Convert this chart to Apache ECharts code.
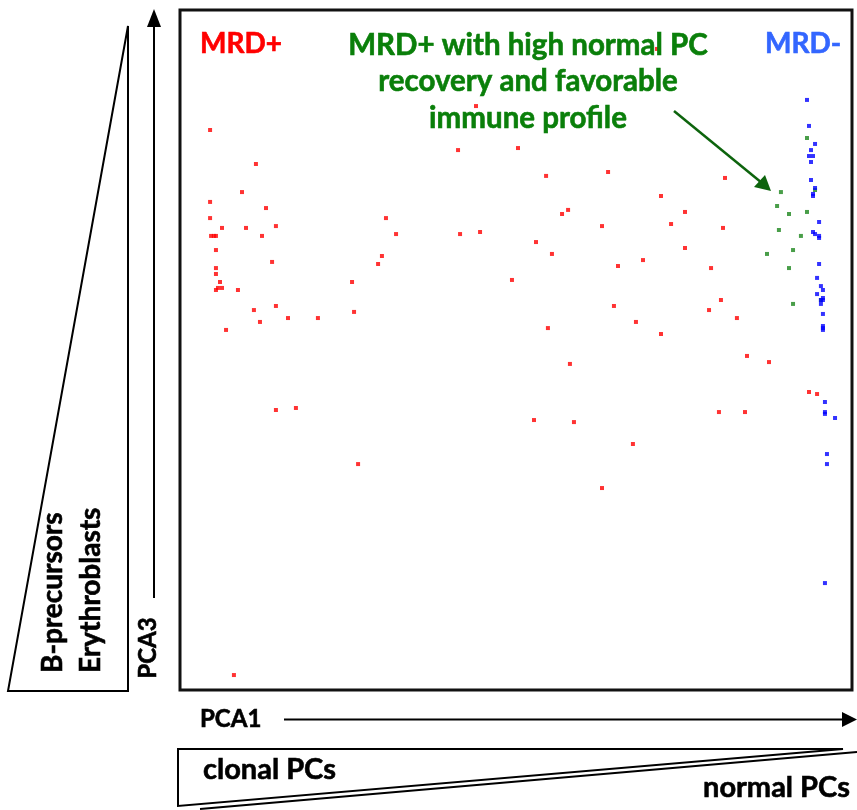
<!DOCTYPE html>
<html>
<head>
<meta charset="utf-8">
<title>PCA1 vs PCA3</title>
<script src="https://cdn.jsdelivr.net/npm/echarts@6/dist/echarts.min.js"></script>
<style>
  html, body { margin: 0; padding: 0; background: #fff; }
  #chart { width: 857px; height: 810px; }
</style>
</head>
<body>
<div id="chart"></div>
<script>
// PCA scores [PCA1, PCA3] per sample group
const mrdPositive = [
  [-18.21, 12.94], [-15.48, 10.94], [-16.31, 9.29], [-18.21, 8.71], [-14.88, 8.35],
  [-18.21, 7.76], [-17.50, 7.18], [-16.07, 7.18], [-14.29, 7.29], [-15.12, 6.71],
  [-18.15, 6.71], [-17.98, 6.71], [-17.86, 6.71], [-17.86, 5.88], [-14.52, 5.18],
  [-17.86, 4.82], [-17.86, 4.47], [-17.62, 4.00], [-17.86, 3.53], [-17.74, 3.65],
  [-17.50, 3.65], [-16.55, 3.53], [-15.60, 2.35], [-14.29, 2.59], [-15.24, 1.65],
  [-13.57, 1.88], [-11.79, 1.88], [-17.26, 1.18], [-7.74, 7.76], [-7.14, 6.82],
  [-7.98, 5.53], [-8.21, 5.06], [-9.76, 4.00], [-9.64, 2.24], [-2.38, 14.35],
  [-3.45, 11.76], [0.12, 11.88], [1.79, 10.24], [5.48, 10.47], [2.74, 8.00],
  [3.10, 8.24], [5.12, 7.29], [-3.33, 6.82], [-2.14, 6.94], [1.19, 6.35],
  [2.14, 5.65], [6.07, 4.94], [-0.24, 4.12], [5.83, 2.59], [7.14, 1.65],
  [1.90, 1.29], [12.44, 10.12], [8.63, 9.06], [10.06, 8.12], [9.23, 7.41],
  [12.32, 7.18], [10.06, 6.00], [7.56, 5.29], [11.61, 4.82], [12.20, 2.94],
  [11.49, 2.35], [13.15, 1.88], [8.63, 0.94], [-14.29, -3.53], [-13.10, -3.41],
  [-9.40, -6.71], [-16.79, -19.12], [3.21, -0.82], [13.75, -0.35], [15.06, -0.71],
  [17.44, -2.47], [17.92, -2.59], [1.07, -4.12], [3.45, -4.24], [12.08, -3.65],
  [13.63, -3.65], [6.96, -5.53], [5.12, -8.12], [8.39, 17.71]
];

const mrdPositiveRecovery = [
  [17.32, 12.47], [15.77, 9.29], [15.54, 8.47], [16.25, 8.00], [17.32, 8.12],
  [15.65, 7.06], [16.96, 6.71], [14.94, 5.65], [16.49, 5.88], [16.25, 4.82],
  [17.80, 9.41], [16.49, 2.71], [18.15, 2.94]
];

const mrdNegative = [
  [17.32, 14.71], [17.44, 13.18], [17.80, 12.12], [17.56, 11.76], [17.44, 11.41],
  [17.68, 11.41], [17.56, 11.06], [17.56, 10.00], [17.80, 9.53], [17.68, 9.18],
  [17.68, 9.06], [18.04, 7.53], [17.68, 6.94], [17.80, 6.82], [18.04, 6.71],
  [18.04, 6.59], [18.04, 5.06], [17.92, 4.24], [18.15, 3.76], [18.27, 3.53],
  [17.92, 3.29], [18.27, 3.06], [18.15, 2.94], [18.27, 2.94], [18.15, 2.71],
  [18.27, 2.12], [18.27, 1.41], [18.27, 1.29], [18.27, 1.18], [18.39, -3.06],
  [18.39, -3.65], [18.39, -3.76], [18.99, -4.00], [18.51, -6.12], [18.51, -6.71],
  [18.39, -13.71]
];

const groupLabels = ['MRD+', 'MRD+ with high normal PC\nrecovery and favorable\nimmune profile', 'MRD-'];
const axisLabels = { x: 'PCA1', y: 'PCA3' };
const cellLabels = { left: ['B-precursors', 'Erythroblasts'], bottom: ['clonal PCs', 'normal PCs'] };

const FONT = 'Lato, "Open Sans", sans-serif';
const RED = '#ff0000', GREEN = '#0a7f0a', BLUE = '#3366ff';

const chart = echarts.init(document.getElementById('chart'), null, { renderer: 'canvas' });

// heavy label: bold face plus a thin outline in the same colour
function label(text, x, y, size, color, align, vAlign, rotation, extraStyle) {
  return {
    type: 'text', x: x, y: y, z: 10, rotation: rotation || 0,
    style: Object.assign({
      text: text, fill: color, stroke: color, lineWidth: 0.6,
      font: 'bold ' + size + 'px ' + FONT,
      align: align || 'left', verticalAlign: vAlign || 'middle'
    }, extraStyle || {})
  };
}

const option = {
  animation: false,
  backgroundColor: '#fff',
  grid: {
    left: 180, top: 10, width: 672, height: 680,
    show: true, borderColor: '#111', borderWidth: 3, backgroundColor: 'transparent'
  },
  xAxis: { type: 'value', min: -20, max: 20, show: false },
  yAxis: { type: 'value', min: -20, max: 20, show: false },
  series: [
    { name: groupLabels[0], type: 'scatter', data: mrdPositive, symbol: 'rect', symbolSize: 4,
      itemStyle: { color: RED } },
    { name: groupLabels[1], type: 'scatter', data: mrdPositiveRecovery, symbol: 'rect', symbolSize: 4,
      itemStyle: { color: '#1b861b' } },
    { name: groupLabels[2], type: 'scatter', data: mrdNegative, symbol: 'rect', symbolSize: 4,
      itemStyle: { color: '#0000ff' } }
  ],
  graphic: [
    // group labels inside the plot
    label(groupLabels[0], 200, 58, 28, RED, 'left', 'bottom'),
    label(groupLabels[1], 528, 27, 29.5, GREEN, 'center', 'top', 0, { lineHeight: 36.5 }),
    label(groupLabels[2], 765, 58, 28, BLUE, 'left', 'bottom'),
    // annotation arrow toward the recovery cluster
    { type: 'line', z: 10, shape: { x1: 674, y1: 111, x2: 762, y2: 183 },
      style: { stroke: '#0d640d', lineWidth: 2.5 } },
    { type: 'polygon', z: 10, shape: { points: [[771, 191], [754, 187], [765, 175]] },
      style: { fill: '#0d640d' } },

    // vertical axis arrow (PCA3)
    { type: 'line', shape: { x1: 154, y1: 598, x2: 154, y2: 24 },
      style: { stroke: '#000', lineWidth: 2 } },
    { type: 'polygon', shape: { points: [[147, 27], [161, 27], [154, 9]] },
      style: { fill: '#000' } },
    label(axisLabels.y, 148, 648, 24, '#000', 'center', 'middle', Math.PI / 2),

    // left wedge with lineage labels
    { type: 'polygon', shape: { points: [[8, 691], [128, 691], [128, 26]] },
      style: { fill: 'none', stroke: '#000', lineWidth: 2 } },
    label(cellLabels.left[0], 53, 673, 28, '#000', 'left', 'middle', Math.PI / 2),
    label(cellLabels.left[1], 91, 673, 28, '#000', 'left', 'middle', Math.PI / 2),

    // horizontal axis arrow (PCA1)
    label(axisLabels.x, 200, 719, 24, '#000', 'left', 'middle'),
    { type: 'line', shape: { x1: 284, y1: 719.5, x2: 844, y2: 719.5 },
      style: { stroke: '#000', lineWidth: 2 } },
    { type: 'polygon', shape: { points: [[842, 712], [842, 727], [857, 719.5]] },
      style: { fill: '#000' } },

    // bottom wedge with plasma cell labels
    { type: 'polygon', shape: { points: [[178, 749], [843, 749], [178, 806]] },
      style: { fill: 'none', stroke: '#000', lineWidth: 2 } },
    { type: 'line', shape: { x1: 200, y1: 809, x2: 857, y2: 752 },
      style: { stroke: '#000', lineWidth: 2 } },
    label(cellLabels.bottom[0], 203, 770, 29, '#000', 'left', 'middle'),
    label(cellLabels.bottom[1], 850, 788, 29, '#000', 'right', 'middle')
  ]
};

chart.setOption(option);
</script>
</body>
</html>
